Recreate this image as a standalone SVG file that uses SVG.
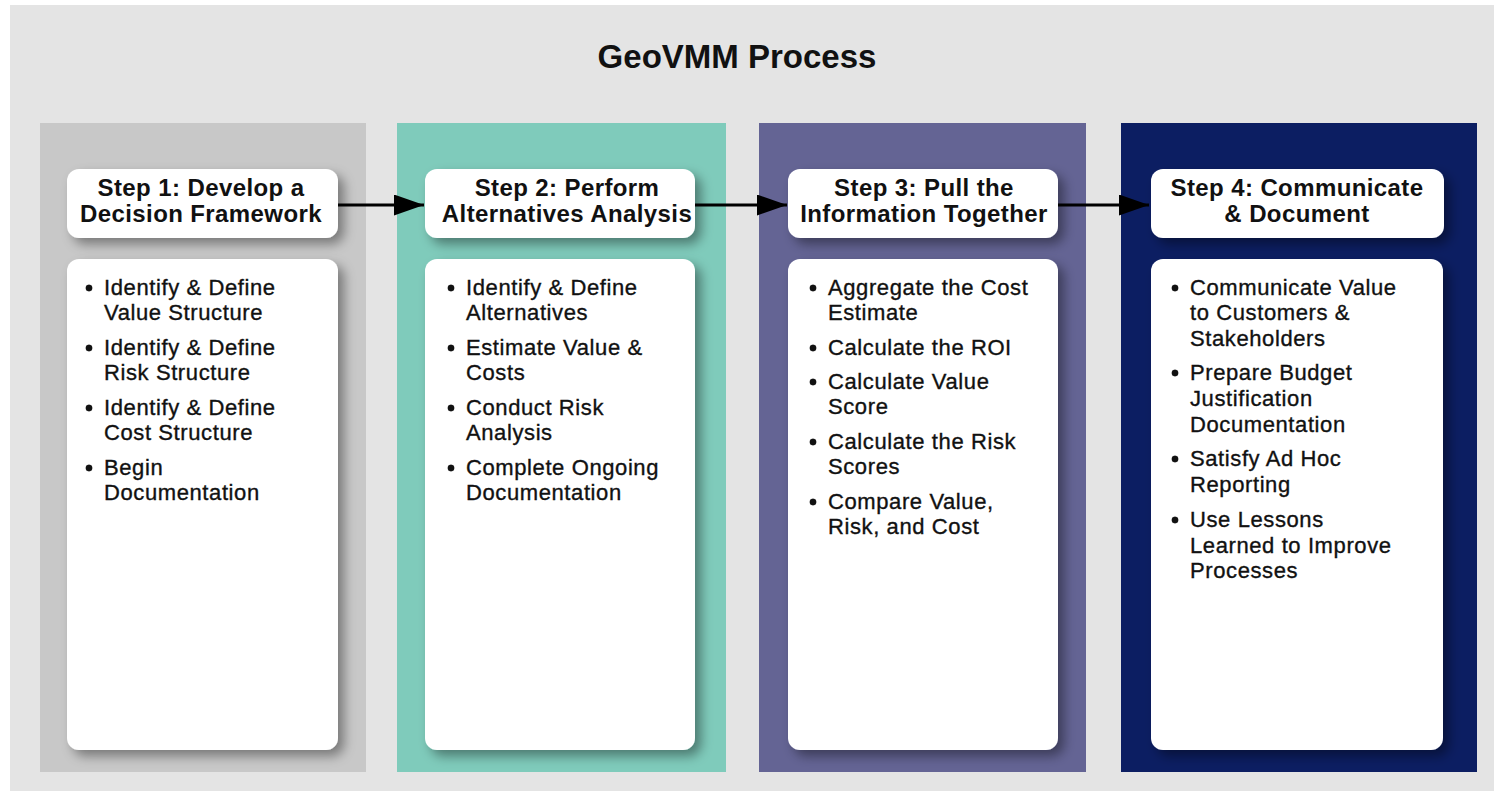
<svg xmlns="http://www.w3.org/2000/svg" width="1494" height="791" viewBox="0 0 1494 791">
  <style>
    .title { font-family: "Liberation Sans", Arial, sans-serif; font-weight: bold; font-size: 33px; fill: #111; }
    .head { font-family: "Liberation Sans", Arial, sans-serif; font-weight: bold; font-size: 24px; letter-spacing: 0.4px; fill: #111; text-anchor: middle; }
    .item { font-family: "Liberation Sans", Arial, sans-serif; font-size: 22px; letter-spacing: 0.6px; fill: #111; stroke: #111; stroke-width: 0.35px; }
    .card { fill: #ffffff; filter: url(#shadow); }
    .link { stroke: #000; stroke-width: 3; fill: none; marker-end: url(#arrow); }
  </style>
  <defs>
    <filter id="shadow" x="-20%" y="-20%" width="150%" height="150%">
      <feDropShadow dx="6" dy="6" stdDeviation="6" flood-color="#000" flood-opacity="0.4"/>
    </filter>
    <marker id="arrow" markerWidth="10" markerHeight="7" refX="10" refY="3.5" orient="auto" markerUnits="strokeWidth">
      <path d="M0,0 L10,3.5 L0,7 Z" fill="#000"/>
    </marker>
  </defs>

  <!-- background panel -->
  <rect x="0" y="0" width="1494" height="791" fill="#ffffff"/>
  <rect x="10" y="5" width="1484" height="786" fill="#e4e4e4"/>

  <text class="title" x="737" y="68" text-anchor="middle">GeoVMM Process</text>

  <!-- step 1 -->
  <g id="step1">
    <rect x="40" y="123" width="326" height="649" fill="#c8c8c8"/>
    <rect class="card" x="67" y="169" width="271" height="69" rx="12"/>
    <text class="head" x="201" y="196">Step 1: Develop a</text>
    <text class="head" x="201" y="222">Decision Framework</text>
    <rect class="card" x="67" y="259" width="271" height="491" rx="12"/>
    <g class="item">
      <circle cx="89" cy="288" r="3.2"/>
      <text x="104" y="295">Identify &amp; Define</text>
      <text x="104" y="320">Value Structure</text>
      <circle cx="89" cy="348" r="3.2"/>
      <text x="104" y="355">Identify &amp; Define</text>
      <text x="104" y="380">Risk Structure</text>
      <circle cx="89" cy="408" r="3.2"/>
      <text x="104" y="415">Identify &amp; Define</text>
      <text x="104" y="440">Cost Structure</text>
      <circle cx="89" cy="468" r="3.2"/>
      <text x="104" y="475">Begin</text>
      <text x="104" y="500">Documentation</text>
    </g>
  </g>

  <!-- step 2 -->
  <g id="step2">
    <rect x="397" y="123" width="329" height="649" fill="#7fcbbb"/>
    <rect class="card" x="425" y="169" width="270" height="69" rx="12"/>
    <text class="head" x="567" y="196">Step 2: Perform</text>
    <text class="head" x="567" y="222">Alternatives Analysis</text>
    <rect class="card" x="425" y="259" width="270" height="491" rx="12"/>
    <g class="item">
      <circle cx="451" cy="288" r="3.2"/>
      <text x="466" y="295">Identify &amp; Define</text>
      <text x="466" y="320">Alternatives</text>
      <circle cx="451" cy="348" r="3.2"/>
      <text x="466" y="355">Estimate Value &amp;</text>
      <text x="466" y="380">Costs</text>
      <circle cx="451" cy="408" r="3.2"/>
      <text x="466" y="415">Conduct Risk</text>
      <text x="466" y="440">Analysis</text>
      <circle cx="451" cy="468" r="3.2"/>
      <text x="466" y="475">Complete Ongoing</text>
      <text x="466" y="500">Documentation</text>
    </g>
  </g>

  <!-- step 3 -->
  <g id="step3">
    <rect x="759" y="123" width="327" height="649" fill="#646494"/>
    <rect class="card" x="788" y="169" width="270" height="69" rx="12"/>
    <text class="head" x="924" y="196">Step 3: Pull the</text>
    <text class="head" x="924" y="222">Information Together</text>
    <rect class="card" x="788" y="259" width="270" height="491" rx="12"/>
    <g class="item">
      <circle cx="813" cy="288" r="3.2"/>
      <text x="828" y="295">Aggregate the Cost</text>
      <text x="828" y="320">Estimate</text>
      <circle cx="813" cy="348" r="3.2"/>
      <text x="828" y="355">Calculate the ROI</text>
      <circle cx="813" cy="382" r="3.2"/>
      <text x="828" y="389">Calculate Value</text>
      <text x="828" y="414">Score</text>
      <circle cx="813" cy="442" r="3.2"/>
      <text x="828" y="449">Calculate the Risk</text>
      <text x="828" y="474">Scores</text>
      <circle cx="813" cy="502" r="3.2"/>
      <text x="828" y="509">Compare Value,</text>
      <text x="828" y="534">Risk, and Cost</text>
    </g>
  </g>

  <!-- step 4 -->
  <g id="step4">
    <rect x="1121" y="123" width="356" height="649" fill="#0c1e62"/>
    <rect class="card" x="1151" y="169" width="293" height="69" rx="12"/>
    <text class="head" x="1297" y="196">Step 4: Communicate</text>
    <text class="head" x="1297" y="222">&amp; Document</text>
    <rect class="card" x="1151" y="259" width="292" height="491" rx="12"/>
    <g class="item">
      <circle cx="1175" cy="288" r="3.2"/>
      <text x="1190" y="295">Communicate Value</text>
      <text x="1190" y="320">to Customers &amp;</text>
      <text x="1190" y="346">Stakeholders</text>
      <circle cx="1175" cy="373" r="3.2"/>
      <text x="1190" y="380">Prepare Budget</text>
      <text x="1190" y="406">Justification</text>
      <text x="1190" y="432">Documentation</text>
      <circle cx="1175" cy="459" r="3.2"/>
      <text x="1190" y="466">Satisfy Ad Hoc</text>
      <text x="1190" y="492">Reporting</text>
      <circle cx="1175" cy="520" r="3.2"/>
      <text x="1190" y="527">Use Lessons</text>
      <text x="1190" y="553">Learned to Improve</text>
      <text x="1190" y="578">Processes</text>
    </g>
  </g>

  <!-- connectors between step headers -->
  <g id="connectors">
    <line class="link" x1="338" y1="205" x2="424" y2="205"/>
    <line class="link" x1="695" y1="205" x2="787" y2="205"/>
    <line class="link" x1="1058" y1="205" x2="1149" y2="205"/>
  </g>
</svg>
